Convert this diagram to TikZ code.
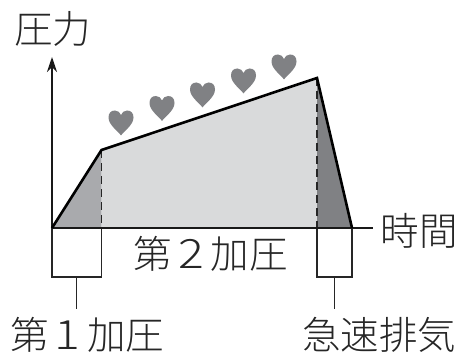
\documentclass[tikz,border=0pt]{standalone}
\usepackage{fontspec}
\newfontfamily\jpfont{Noto Sans CJK JP Light}
\usetikzlibrary{arrows.meta}
\definecolor{lowgray}{HTML}{D9DADB}
\definecolor{midgray}{HTML}{A9AAAD}
\definecolor{darkgray}{HTML}{808184}
\newcommand{\wdigit}[1]{\makebox[1em]{\scalebox{1.25}[1.05]{#1}}}
\tikzset{
    label/.style={inner sep=0pt, font=\jpfont\fontsize{38.5}{38.5}\selectfont, text=black!85},
    curve/.style={line width=2.6pt, line join=miter},
    thin box/.style={line width=1.2pt, black!85},
    divider/.style={line width=1.2pt, dash pattern=on 8pt off 5pt, black!85}
}
\begin{document}
\begin{tikzpicture}[x=1pt, y=-1pt]
    \useasboundingbox (0,0) rectangle (465,358);

    % Points
    \coordinate (origin) at (52,228);
    \coordinate (first) at (101.5,150);
    \coordinate (peak) at (317,78);
    \coordinate (last) at (352,228);
    \coordinate (firstfoot) at (101.5,228);
    \coordinate (peakfoot) at (317,228);
    \coordinate (top) at (52,57);
    \coordinate (right) at (373,228);

    % Areas
    \fill[midgray] (origin) -- (first) -- (firstfoot) -- cycle;
    \fill[lowgray] (first) -- (peak) -- (peakfoot) -- (firstfoot) -- cycle;
    \fill[darkgray] (peak) -- (last) -- (peakfoot) -- cycle;

    % Hearts
    \foreach \hx/\hy in {121/123, 162/108.5, 202.5/95, 243.5/81, 284/67}
        \fill[darkgray, shift={(\hx,\hy)}] (0,12.5) .. controls (-3,8) and (-12.5,2) .. (-12.5,-5.5)
            .. controls (-12.5,-10) and (-10,-12.5) .. (-6,-12.5)
            .. controls (-3,-12.5) and (-1,-10.5) .. (0,-8)
            .. controls (1,-10.5) and (3,-12.5) .. (6,-12.5)
            .. controls (10,-12.5) and (12.5,-10) .. (12.5,-5.5)
            .. controls (12.5,2) and (3,8) .. (0,12.5) -- cycle;

    % Dashed lines
    \draw[divider] (first) -- (firstfoot);
    \draw[divider] (peak) -- (peakfoot);

    % Boxes below the axis
    \draw[thin box] (origin) rectangle (101.5,277);
    \draw[thin box] (peakfoot) rectangle (352,277);

    % Axes
    \draw[line width=1.6pt, -{Stealth[length=15pt, width=10pt]}, black!90] (origin) -- (top);
    \draw[line width=1.6pt, black!90] (origin) -- (right);
    \draw[curve] (origin) -- (first) -- (peak) -- (last);

    % Labels
    \node[label] (pressure) at (52.5,29) {圧力};
    \node[label] (time) at (419,231) {時間};
    \node[label] (second) at (210.5,254) {第\wdigit{2}加圧};
    \node[label] (firststep) at (87,335) {第\wdigit{1}加圧};
    \node[label] (exhaust) at (379,335) {急速排気};

    % Leaders
    \coordinate (firstbox) at (76.5,277);
    \coordinate (firstend) at (76.5,309);
    \coordinate (lastbox) at (334.5,277);
    \coordinate (lastend) at (334.5,309);
    \draw[thin box] (firstbox) -- (firstend);
    \draw[thin box] (lastbox) -- (lastend);
\end{tikzpicture}
\end{document}
